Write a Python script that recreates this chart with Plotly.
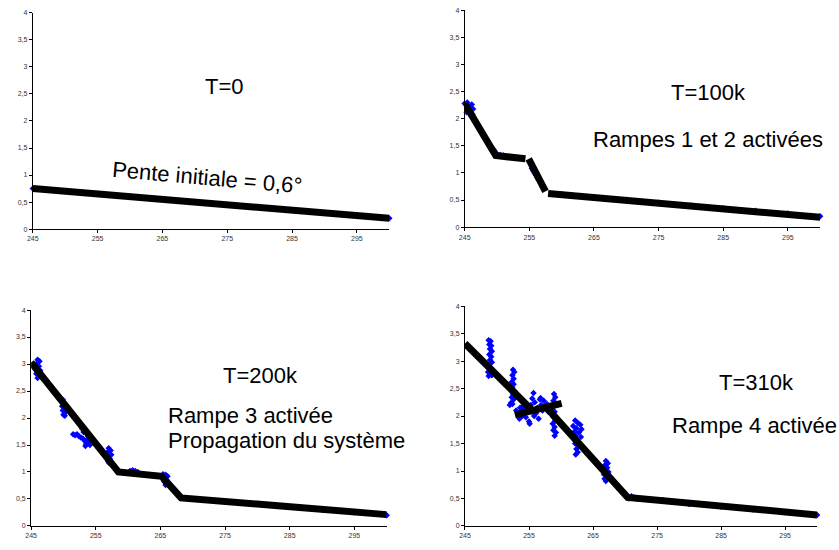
import plotly.graph_objects as go

# ---------------- data ----------------
# Panel T=0
t0_x = [245, 250, 255, 260, 265, 270, 275, 280, 285, 290, 295, 300]
t0_y = [0.75, 0.70, 0.65, 0.60, 0.55, 0.50, 0.45, 0.40, 0.35, 0.30, 0.25, 0.20]
fit0_x = [245, 300]
fit0_y = [0.75, 0.20]

# Panel T=100k
t1_x = [245.0, 245.2, 245.4, 245.5, 245.6, 245.8, 246.0, 245.3, 245.7, 246.2, 246.3, 246.1,
        249.0, 249.2, 249.4, 249.6, 249.8, 250.5, 251.0, 252.0,
        255.4, 255.6, 255.8, 256.0, 256.2, 256.4,
        260, 265, 270, 275, 280, 285, 290, 295, 300]
t1_y = [2.28, 2.25, 2.30, 2.20, 2.15, 2.10, 2.05, 2.12, 2.22, 2.08, 2.18, 2.26,
        1.50, 1.47, 1.44, 1.41, 1.37, 1.33, 1.32, 1.30,
        1.08, 1.04, 1.00, 0.96, 0.92, 0.88,
        0.60, 0.55, 0.50, 0.45, 0.40, 0.35, 0.30, 0.25, 0.20]
fit1_x = [245, 249.8, 254.4, None, 254.9, 257.5, None, 257.9, 300]
fit1_y = [2.28, 1.32, 1.26, None, 1.26, 0.66, None, 0.62, 0.18]

# Panel T=200k
t2_x = [246.0, 246.3, 245.8, 246.2, 245.9, 246.4, 246.1, 245.8, 246.3, 246.0, 246.5,
        249.9, 250.1, 249.8, 250.2, 249.9, 250.3, 250.0, 250.2,
        251.5, 251.8, 252.1, 252.4, 252.7, 253.0, 252.9, 253.1, 253.3, 253.5, 253.7, 253.9, 253.4, 254.1, 253.8,
        257.0, 257.3, 256.8, 257.4, 257.0, 257.2, 256.9, 257.1,
        260.3, 260.7, 261.1, 261.5,
        265.4, 265.8, 266.1, 265.5, 265.9, 265.6, 266.0, 265.8,
        270, 275, 280, 285, 290, 295, 300]
t2_y = [3.08, 3.05, 3.00, 2.96, 2.92, 2.88, 2.84, 2.82, 2.78, 2.74, 2.76,
        2.34, 2.28, 2.22, 2.18, 2.14, 2.10, 2.06, 2.04,
        1.70, 1.68, 1.70, 1.66, 1.64, 1.62, 1.80, 1.74, 1.58, 1.52, 1.60, 1.55, 1.48, 1.50, 1.66,
        1.44, 1.40, 1.36, 1.32, 1.28, 1.24, 1.20, 1.16,
        1.02, 1.03, 1.02, 1.00,
        0.96, 0.95, 0.92, 0.90, 0.86, 0.82, 0.78, 0.76,
        0.50, 0.45, 0.40, 0.35, 0.30, 0.25, 0.20]
fit2_x = [245, 258.5, 265.2, 268.2, 300]
fit2_y = [3.03, 1.00, 0.92, 0.52, 0.21]

# Panel T=310k
t3_x = [248.7, 249.0, 248.8, 249.1, 248.9, 249.2, 248.8, 249.1, 248.9, 249.2, 248.7, 249.0, 248.6, 248.9, 249.2, 248.7,
        252.5, 252.7, 252.4, 252.6, 252.3, 252.6, 252.4, 252.7, 252.5, 252.3, 252.6, 252.2, 252.0, 252.4,
        253.0, 253.3, 253.6, 253.9, 254.2, 254.5, 254.8, 255.0, 255.1, 255.3, 255.5, 255.7, 255.9, 256.1,
        256.3, 256.5, 256.7, 256.9, 257.1, 257.3, 257.5, 257.8, 258.0, 254.0, 253.5, 255.8, 256.8, 254.6,
        258.9, 259.1, 258.8, 259.2, 258.7, 259.0, 258.8, 259.1, 258.7, 259.0, 258.8, 259.2, 259.0,
        262.2, 262.6, 263.0, 261.9, 262.4, 263.2, 262.1, 262.8, 262.3, 263.1, 262.5, 262.2, 262.7, 262.4, 262.6, 262.3,
        267.0, 267.3, 266.8, 267.2, 266.9, 267.4, 266.7, 267.1, 266.8, 267.0,
        270.6, 271.0, 271.4, 271.8, 276, 280, 285, 290, 295, 300]
t3_y = [3.38, 3.36, 3.30, 3.28, 3.22, 3.18, 3.12, 3.08, 3.02, 2.98, 2.92, 2.88, 2.80, 2.76, 2.74, 2.73,
        2.84, 2.80, 2.74, 2.68, 2.62, 2.58, 2.52, 2.46, 2.40, 2.34, 2.30, 2.24, 2.20, 2.22,
        2.10, 2.05, 2.15, 2.00, 2.12, 1.98, 2.08, 1.90, 1.86, 2.20, 2.32, 2.42, 2.25, 2.05,
        2.15, 1.95, 2.30, 2.20, 2.10, 2.28, 2.18, 2.22, 2.08, 2.18, 1.95, 2.00, 2.33, 2.22,
        2.40, 2.34, 2.28, 2.22, 2.15, 2.08, 1.98, 1.92, 1.86, 1.80, 1.74, 1.70, 1.64,
        1.92, 1.88, 1.84, 1.82, 1.78, 1.76, 1.72, 1.70, 1.64, 1.62, 1.56, 1.50, 1.46, 1.40, 1.34, 1.30,
        1.18, 1.14, 1.10, 1.06, 1.02, 0.98, 0.94, 0.90, 0.86, 0.82,
        0.50, 0.54, 0.52, 0.50, 0.47, 0.40, 0.35, 0.30, 0.25, 0.20]
fit3_x = [245, 255.8, None, 252.8, 260.1, None, 257.6, 270.4, 300]
fit3_y = [3.32, 2.07, None, 2.02, 2.23, None, 2.17, 0.52, 0.20]

x_ticks = [245, 255, 265, 275, 285, 295]
y_ticks = [0, 0.5, 1, 1.5, 2, 2.5, 3, 3.5, 4]
y_labels = ["0", "0,5", "1", "1,5", "2", "2,5", "3", "3,5", "4"]

panels = [
    (t0_x, t0_y, fit0_x, fit0_y),
    (t1_x, t1_y, fit1_x, fit1_y),
    (t2_x, t2_y, fit2_x, fit2_y),
    (t3_x, t3_y, fit3_x, fit3_y),
]

W, H = 839, 550
# pixel boxes: (left, right, top(y=4), bottom(y=0))
boxes = [
    (27, 386, 9, 228),
    (462, 820, 6.3, 226),
    (25.3, 383.4, 310, 528.7),
    (462.3, 817, 306, 528.7),
]

fig = go.Figure()
FONT = "Liberation Sans, Arial, sans-serif"

for i, (px, py, fx, fy) in enumerate(panels):
    sfx = "" if i == 0 else str(i + 1)
    fig.add_trace(go.Scatter(
        x=px, y=py, mode="markers", xaxis="x" + sfx, yaxis="y" + sfx,
        marker=dict(symbol="diamond", size=5, color="#0000FF",
                    line=dict(width=0)),
        cliponaxis=False, showlegend=False, hoverinfo="skip"))
    fig.add_trace(go.Scatter(
        x=fx, y=fy, mode="lines", xaxis="x" + sfx, yaxis="y" + sfx,
        line=dict(color="black", width=7), connectgaps=False,
        showlegend=False, hoverinfo="skip"))
    l, r, t, b = boxes[i]
    axis_common = dict(showline=True, linecolor="black", linewidth=1,
                       ticks="outside", ticklen=3, tickcolor="black",
                       tickfont=dict(size=7, color="#333333", family=FONT),
                       showgrid=False, zeroline=False, fixedrange=True)
    fig.update_layout(**{
        "xaxis" + sfx: dict(domain=[l / W, r / W], range=[245, 300],
                            anchor="y" + sfx, tickvals=x_ticks,
                            ticktext=[str(v) for v in x_ticks], **axis_common),
        "yaxis" + sfx: dict(domain=[1 - b / H, 1 - t / H], range=[0, 4],
                            anchor="x" + sfx, tickvals=y_ticks,
                            ticktext=y_labels, **axis_common),
    })

texts = [
    ("T=0", 220, 84, "center", 0),
    ("Pente initiale = 0,6°", 202, 176, "center", 5),
    ("T=100k", 708, 90, "center", 0),
    ("Rampes 1 et 2 activées", 707, 137, "center", 0),
    ("T=200k", 256, 376, "center", 0),
    ("Rampe 3 activée", 161, 417, "left", 0),
    ("Propagation du système", 161, 442, "left", 0),
    ("T=310k", 756, 383, "center", 0),
    ("Rampe 4 activée", 669, 427, "left", 0),
]
for txt, x, y, xa, ang in texts:
    fig.add_annotation(text=txt, x=x / W, y=1 - y / H, xref="paper", yref="paper",
                       xanchor=xa, yanchor="middle", showarrow=False,
                       textangle=ang, font=dict(size=22, color="black", family=FONT))

fig.update_layout(width=W, height=H, margin=dict(l=0, r=0, t=0, b=0),
                  paper_bgcolor="white", plot_bgcolor="white",
                  font=dict(family=FONT))

fig.write_html("out.html", config={"displayModeBar": False},
               post_script="document.body.style.margin='0';document.body.style.overflow='hidden';")
